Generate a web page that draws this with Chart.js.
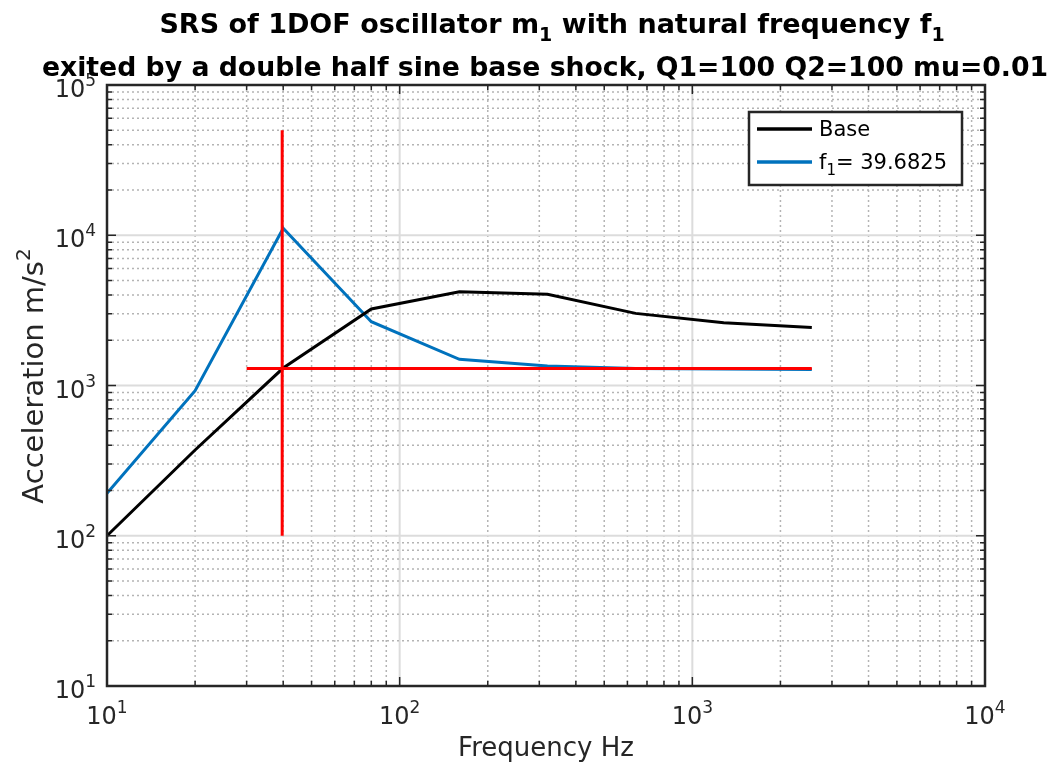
<!DOCTYPE html>
<html>
<head>
<meta charset="utf-8">
<script src="https://cdn.jsdelivr.net/npm/chart.js@4/dist/chart.umd.min.js"></script>
<style>
  html, body { margin: 0; padding: 0; background: #fff; }
  #wrap { width: 1054px; height: 763px; position: relative; }
</style>
</head>
<body>
<div id="wrap"><canvas id="srs"></canvas></div>
<script>
// octave frequencies of the SRS
const freqs = [10, 20, 40, 80, 160, 320, 640, 1280, 2560];
const baseAccel = [100, 372, 1307, 3230, 4210, 4050, 3020, 2620, 2430];
const f1Accel = [192, 923, 11130, 2660, 1494, 1349, 1297, 1288, 1280];

// red marker lines at f1
const f1 = 39.6825;
const markVFreq = [f1, f1];
const markVAccel = [100, 50000];
const markHFreq = [30, 2560];
const markHAccel = [1300, 1300];

// decade exponents for the tick labels
const xExps = [1, 2, 3, 4];
const yExps = [1, 2, 3, 4, 5];

const title1 = [['SRS of 1DOF oscillator m', 'n'], ['1', 'sub'], [' with natural frequency f', 'n'], ['1', 'sub']];
const title2 = [['exited by a double half sine base shock, Q1=100 Q2=100 mu=0.01', 'n']];
const xLabel = [['Frequency Hz', 'n']];
const yLabel = [['Acceleration m/s', 'n'], ['2', 'sup']];

const FONT = '"DejaVu Sans", sans-serif';
const AXIS = '#262626';

function pts(xs, ys) {
    return xs.map((x, i) => ({ x: x, y: ys[i] }));
}

function richWidth(ctx, parts, size, weight) {
    let w = 0;
    parts.forEach(p => {
        ctx.font = weight + ' ' + (p[1] === 'n' ? size : Math.round(size * 0.7)) + 'px ' + FONT;
        w += ctx.measureText(p[0]).width;
    });
    return w;
}

function drawRich(ctx, parts, x, y, size, weight, align) {
    const w = richWidth(ctx, parts, size, weight);
    let cx = align === 'center' ? x - w / 2 : (align === 'right' ? x - w : x);
    ctx.textAlign = 'left';
    ctx.textBaseline = 'alphabetic';
    parts.forEach(p => {
        const s = p[1] === 'n' ? size : Math.round(size * 0.7);
        ctx.font = weight + ' ' + s + 'px ' + FONT;
        let dy = 0;
        if (p[1] === 'sub') dy = size * 0.3;
        if (p[1] === 'sup') dy = -size * 0.45;
        ctx.fillText(p[0], cx, y + dy);
        cx += ctx.measureText(p[0]).width;
    });
}

function gridStyle(ctx, major) {
    if (major) { ctx.setLineDash([]); ctx.strokeStyle = '#dcdcdc'; ctx.lineWidth = 2; }
    else { ctx.setLineDash([2, 3]); ctx.strokeStyle = '#b4b4b4'; ctx.lineWidth = 1.5; }
}

const matlabFrame = {
    id: 'matlabFrame',
    beforeDatasetsDraw(chart) {
        const ctx = chart.ctx;
        const a = chart.chartArea;
        const xs = chart.scales.x, ys = chart.scales.y;
        ctx.save();
        for (let e = 1; e < 4; e++) {
            for (let k = 1; k < 10; k++) {
                if (k === 1 && e === 1) continue;
                const px = xs.getPixelForValue(k * Math.pow(10, e));
                gridStyle(ctx, k === 1);
                ctx.beginPath();
                ctx.moveTo(px, a.top); ctx.lineTo(px, a.bottom); ctx.stroke();
            }
        }
        for (let e = 1; e < 5; e++) {
            for (let k = 1; k < 10; k++) {
                if (k === 1 && e === 1) continue;
                const py = ys.getPixelForValue(k * Math.pow(10, e));
                gridStyle(ctx, k === 1);
                ctx.beginPath();
                ctx.moveTo(a.left, py); ctx.lineTo(a.right, py); ctx.stroke();
            }
        }
        ctx.restore();
    },
    afterDatasetsDraw(chart) {
        const ctx = chart.ctx;
        const a = chart.chartArea;
        const xs = chart.scales.x, ys = chart.scales.y;
        ctx.save();
        ctx.setLineDash([]);
        ctx.strokeStyle = AXIS;
        ctx.lineWidth = 1.5;
        // inward ticks on all sides
        for (let e = 1; e < 4; e++) {
            for (let k = 1; k < 10; k++) {
                const px = xs.getPixelForValue(k * Math.pow(10, e));
                const len = k === 1 ? 9 : 5;
                ctx.beginPath();
                ctx.moveTo(px, a.bottom); ctx.lineTo(px, a.bottom - len);
                ctx.moveTo(px, a.top); ctx.lineTo(px, a.top + len);
                ctx.stroke();
            }
        }
        for (let e = 1; e < 5; e++) {
            for (let k = 1; k < 10; k++) {
                const py = ys.getPixelForValue(k * Math.pow(10, e));
                const len = k === 1 ? 9 : 5;
                ctx.beginPath();
                ctx.moveTo(a.left, py); ctx.lineTo(a.left + len, py);
                ctx.moveTo(a.right, py); ctx.lineTo(a.right - len, py);
                ctx.stroke();
            }
        }
        ctx.lineWidth = 2.5;
        ctx.strokeRect(a.left, a.top, a.right - a.left, a.bottom - a.top);

        // tick labels
        ctx.fillStyle = AXIS;
        xExps.forEach(e => {
            const px = xs.getPixelForValue(Math.pow(10, e));
            drawRich(ctx, [['10', 'n'], [String(e), 'sup']], px, a.bottom + 38, 24, 'normal', 'center');
        });
        yExps.forEach(e => {
            const py = ys.getPixelForValue(Math.pow(10, e));
            drawRich(ctx, [['10', 'n'], [String(e), 'sup']], a.left - 11, py + 12, 24, 'normal', 'right');
        });

        // axis labels
        drawRich(ctx, xLabel, (a.left + a.right) / 2, 756, 26, 'normal', 'center');
        ctx.save();
        ctx.translate(43, 376);
        ctx.rotate(-Math.PI / 2);
        drawRich(ctx, yLabel, 0, 0, 29, 'normal', 'center');
        ctx.restore();

        // title
        ctx.fillStyle = '#000';
        drawRich(ctx, title1, 552, 33, 27, 'bold', 'center');
        drawRich(ctx, title2, 545, 76, 26.7, 'bold', 'center');

        // legend
        const lx = 749, ly = 112, lw = 213, lh = 73;
        ctx.fillStyle = '#fff';
        ctx.fillRect(lx, ly, lw, lh);
        ctx.strokeStyle = AXIS;
        ctx.lineWidth = 2.5;
        ctx.strokeRect(lx, ly, lw, lh);
        const entries = chart.data.datasets.filter(d => d.inLegend);
        entries.forEach((d, i) => {
            const yy = ly + 17 + i * 33;
            ctx.strokeStyle = d.borderColor;
            ctx.lineWidth = 3.5;
            ctx.beginPath();
            ctx.moveTo(lx + 8, yy); ctx.lineTo(lx + 63, yy); ctx.stroke();
            ctx.fillStyle = '#000';
            drawRich(ctx, d.richLabel, lx + 70, yy + 7, 21, 'normal', 'left');
        });
        ctx.restore();
    }
};

new Chart(document.getElementById('srs'), {
    type: 'line',
    data: {
        datasets: [
            { label: 'markV', data: pts(markVFreq, markVAccel), borderColor: '#ff0000', borderWidth: 3 },
            { label: 'markH', data: pts(markHFreq, markHAccel), borderColor: '#ff0000', borderWidth: 3 },
            { label: 'Base', inLegend: true, richLabel: [['Base', 'n']], data: pts(freqs, baseAccel), borderColor: '#000000', borderWidth: 3 },
            { label: 'f1= ' + f1, inLegend: true, richLabel: [['f', 'n'], ['1', 'sub'], ['= ' + f1, 'n']], data: pts(freqs, f1Accel), borderColor: '#0072bd', borderWidth: 3 }
        ]
    },
    options: {
        responsive: true,
        maintainAspectRatio: false,
        animation: false,
        layout: { padding: { left: 107, right: 69, top: 85, bottom: 77 } },
        elements: { point: { radius: 0 }, line: { tension: 0, fill: false } },
        plugins: { legend: { display: false }, title: { display: false }, tooltip: { enabled: false } },
        scales: {
            x: { type: 'logarithmic', min: 10, max: 10000, display: false },
            y: { type: 'logarithmic', min: 10, max: 100000, display: false }
        }
    },
    plugins: [matlabFrame]
});
</script>
</body>
</html>
